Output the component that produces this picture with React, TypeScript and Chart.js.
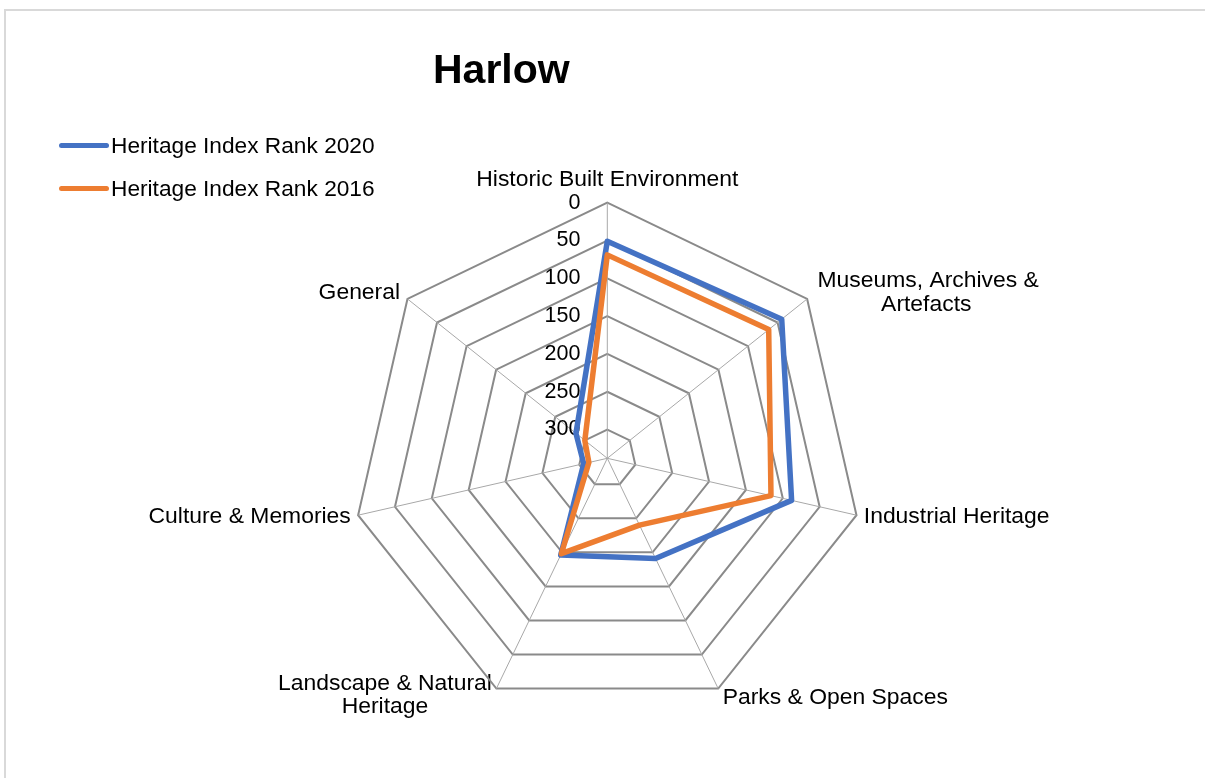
import React, { useEffect, useRef } from "react";
import { Chart, registerables } from "chart.js";

Chart.register(...registerables);

// ---------------- data ----------------
const chartTitle = "Harlow";
const categoryLines: string[][] = [
  ["Historic Built Environment"],
  ["Museums, Archives &", "Artefacts"],
  ["Industrial Heritage"],
  ["Parks & Open Spaces"],
  ["Landscape & Natural", "Heritage"],
  ["Culture & Memories"],
  ["General"],
];
const seriesNames = ["Heritage Index Rank 2020", "Heritage Index Rank 2016"];
const rank2020 = [51, 43, 88, 191, 196, 306, 285];
const rank2016 = [69, 65, 116, 240, 198, 313, 300];
const axisMin = 0;
const axisMax = 338;
const axisStep = 50;
const seriesColors = ["#4472C4", "#ED7D31"];

// ---------------- styling / layout ----------------
const FONT = "'Liberation Sans', Arial, Helvetica, sans-serif";
const TICK_SIZE = 21.5;
const LABEL_SIZE = 22.9;
const RADAR_CENTER_X = 607.3;
const RADAR_CENTER_Y = 458.3;
const RADAR_RADIUS = 255.6;
// distance of each category label beyond the outer ring
const labelGap = [22.9, -27.4, 7.5, 10.4, -18.8, 7.5, 9.5];
const labelIndent = [[0], [5, 15], [0], [0], [2, 12], [0], [0]];

export default function App() {
  const canvasRef = useRef<HTMLCanvasElement | null>(null);

  useEffect(() => {
    const canvas = canvasRef.current;
    if (!canvas) return;
    const extra = TICK_SIZE / 2; // chart.js adds half the tick backdrop height to label distance
    const chart = new Chart(canvas, {
      type: "radar",
      data: {
        labels: categoryLines,
        datasets: [
          {
            label: seriesNames[0],
            data: rank2020,
            borderColor: seriesColors[0],
            backgroundColor: seriesColors[0],
            borderWidth: 5.5,
            borderJoinStyle: "round",
            borderCapStyle: "round",
            pointRadius: 0,
            pointHoverRadius: 0,
            fill: false,
            order: 1,
          },
          {
            label: seriesNames[1],
            data: rank2016,
            borderColor: seriesColors[1],
            backgroundColor: seriesColors[1],
            borderWidth: 5.5,
            borderJoinStyle: "round",
            borderCapStyle: "round",
            pointRadius: 0,
            pointHoverRadius: 0,
            fill: false,
            order: 0,
          },
        ],
      },
      options: {
        responsive: false,
        animation: false,
        devicePixelRatio: 1,
        layout: { padding: 0 },
        plugins: {
          legend: { display: false },
          title: { display: false },
          tooltip: { enabled: false },
        },
        elements: { line: { tension: 0 } },
        scales: {
          r: {
            reverse: true,
            bounds: "data",
            min: axisMin - 0.0001,
            max: axisMax,
            afterSetDimensions: (scale: any) => {
              const W = 1200;
              const H = 900;
              const pT = scale.paddingTop || 0;
              scale.width = W;
              scale.height = H;
              scale.left = RADAR_CENTER_X - W / 2;
              scale.right = scale.left + W;
              scale.top = RADAR_CENTER_Y - pT - (H - pT) / 2;
              scale.bottom = scale.top + H;
              scale.xCenter = RADAR_CENTER_X;
              scale.yCenter = RADAR_CENTER_Y;
              scale.drawingArea = RADAR_RADIUS;
            },
            grid: { color: "#8a8a8a", lineWidth: 2 },
            angleLines: { color: "#a8a8a8", lineWidth: 1 },
            ticks: {
              reverse: true,
              stepSize: axisStep,
              includeBounds: false,
              showLabelBackdrop: false,
              backdropPadding: 0,
              color: "#000000",
              font: { family: FONT, size: TICK_SIZE, lineHeight: 1 },
              callback: (v: any) => {
                const n = Math.round(Math.abs(Number(v)));
                if (n > 300) return "";
                const s = String(n);
                return s + " ".repeat(9 + 2 * s.length);
              },
            } as any,
            pointLabels: {
              color: "#000000",
              font: (ctx: any) => ({
                family: FONT,
                size: LABEL_SIZE,
                lineHeight: categoryLines[ctx.index].length > 1 ? "23.3px" : "0.2px",
              }),
              padding: (ctx: any) => labelGap[ctx.index] - extra,
              callback: (label: any, i: number) => {
                const lines: string[] = Array.isArray(label) ? label : [label];
                return lines.map((line, k) => {
                  const sp = " ".repeat(labelIndent[i][k] || 0);
                  return i === 4 ? line + sp : sp + line;
                });
              },
            } as any,
          } as any,
        },
      } as any,
    });
    return () => chart.destroy();
  }, []);

  return (
    <div>
      <div
        style={{
          position: "fixed",
          left: 4,
          top: 9,
          width: 1400,
          height: 1000,
          borderTop: "2px solid #d9d9d9",
          borderLeft: "2px solid #d9d9d9",
          background: "#ffffff",
        }}
      />
      <canvas
        ref={canvasRef}
        width={1205}
        height={778}
        style={{ position: "fixed", left: 0, top: 0, width: 1205, height: 778 }}
      />
      <div
        style={{
          position: "fixed",
          left: 433,
          top: 48.6,
          font: `bold 41px ${FONT}`,
          lineHeight: "41px",
          color: "#000",
          whiteSpace: "nowrap",
        }}
      >
        {chartTitle}
      </div>
      {seriesNames.map((name, i) => (
        <div
          key={name}
          style={{
            position: "fixed",
            left: 59,
            top: 133 + i * 43.3,
            height: 24,
            display: "flex",
            alignItems: "center",
            whiteSpace: "nowrap",
          }}
        >
          <span
            style={{
              display: "inline-block",
              width: 50,
              height: 5,
              borderRadius: 2.5,
              background: seriesColors[i],
              marginRight: 2,
            }}
          />
          <span style={{ font: `22.7px ${FONT}`, lineHeight: "24px", color: "#000" }}>{name}</span>
        </div>
      ))}
    </div>
  );
}
